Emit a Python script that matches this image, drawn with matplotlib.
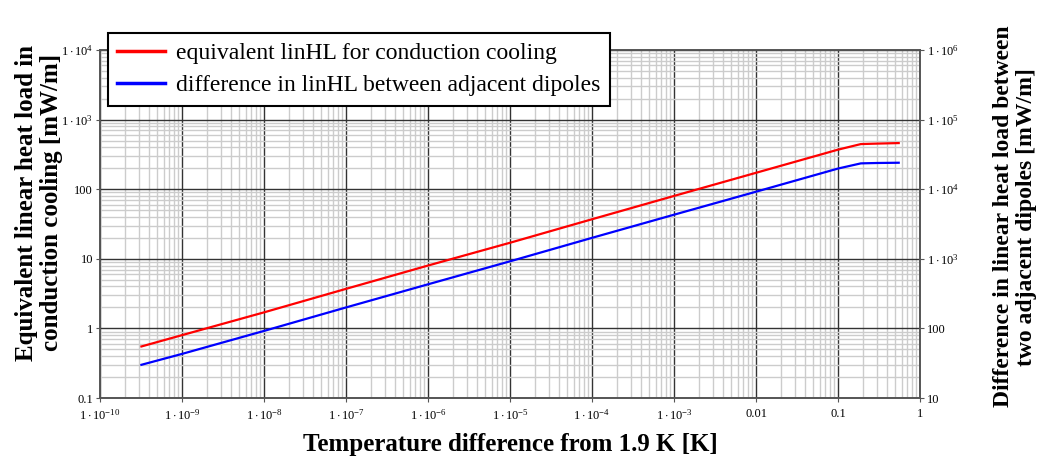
import math
import matplotlib
matplotlib.use("Agg")
import matplotlib.pyplot as plt
from matplotlib.ticker import LogLocator, FuncFormatter, NullFormatter

plt.rcParams['font.family'] = ['Liberation Serif', 'DejaVu Serif']
plt.rcParams['mathtext.fontset'] = 'custom'
plt.rcParams['mathtext.rm'] = 'Liberation Serif'
plt.rcParams['mathtext.it'] = 'Liberation Serif:italic'
plt.rcParams['mathtext.bf'] = 'Liberation Serif:bold'

# data
dT = [3.2e-10, 1e-9, 1e-8, 1e-7, 1e-6, 1e-5, 1e-4, 1e-3, 0.01, 0.1, 0.19, 0.3, 0.55]
lin_hl_equiv = [0.55, 0.80, 1.7, 3.7, 8.0, 17, 37, 80, 172, 370, 445, 452, 460]
lin_hl_diff = [30, 43, 92, 200, 430, 920, 2000, 4300, 9200, 19800, 23500, 23800, 24000]

label_equiv = "equivalent linHL for conduction cooling"
label_diff = "difference in linHL between adjacent dipoles"


def fmt(v, pos=None):
    if 0.01 <= v < 1000:
        return "%g" % v
    e = int(round(math.log10(v)))
    return r"$1\cdot10^{%d}$" % e


fig = plt.figure(figsize=(10.44, 4.61), dpi=100)
ax = fig.add_axes([100 / 1044, 1 - 398 / 461, 820 / 1044, 348 / 461])
ax2 = ax.twinx()

l1, = ax.plot(dT, lin_hl_equiv, color="#ff0000", lw=1.6)
l2, = ax2.plot(dT, lin_hl_diff, color="#0000ff", lw=1.6)

for a in (ax, ax2):
    a.set_xscale("log")
    a.set_yscale("log")
    a.xaxis.set_major_locator(LogLocator(base=10, numticks=20))
    a.xaxis.set_minor_locator(LogLocator(base=10, subs=range(2, 10), numticks=20))
    a.yaxis.set_major_locator(LogLocator(base=10, numticks=20))
    a.yaxis.set_minor_locator(LogLocator(base=10, subs=range(2, 10), numticks=20))
    a.yaxis.set_major_formatter(FuncFormatter(fmt))
    a.yaxis.set_minor_formatter(NullFormatter())
    a.tick_params(which="both", labelsize=9, length=3, color="#555555", pad=2)
    a.tick_params(which="minor", length=0)
    a.yaxis.label.set_visible(False)
    a.yaxis.get_offset_text().set_visible(False)
    a.xaxis.get_offset_text().set_visible(False)
    for s in a.spines.values():
        s.set_color("#555555")
        s.set_linewidth(1.2)
ax2.xaxis.label.set_visible(False)

ax.set_xlim(1e-10, 1)
ax.set_ylim(0.1, 1e4)
ax2.set_ylim(10, 1e6)
ax.xaxis.set_major_formatter(FuncFormatter(fmt))
ax.xaxis.set_minor_formatter(NullFormatter())
ax.tick_params(axis="x", pad=4)

ax.grid(True, which="minor", color="#cccccc", lw=1.0)
ax.grid(True, which="major", color="#333333", lw=1.0)
ax.set_axisbelow(True)

ax.set_xlabel("Temperature difference from 1.9 K [K]", fontsize=18,
              fontweight="bold", labelpad=8)
fig.text(0.037, 0.56, "Equivalent linear heat load in\nconduction cooling [mW/m]",
         rotation=90, ha="center", va="center", fontsize=18, fontweight="bold",
         linespacing=1.1)
fig.text(0.972, 0.53, "Difference in linear heat load between\ntwo adjacent dipoles [mW/m]",
         rotation=90, ha="center", va="center", fontsize=17, fontweight="bold",
         linespacing=1.15)

leg = fig.legend([l1, l2], [label_equiv, label_diff],
                 loc="upper left", bbox_to_anchor=(108 / 1044, 1 - 33 / 461),
                 fontsize=17, frameon=True, fancybox=False, framealpha=1,
                 edgecolor="black", handlelength=2.0, borderpad=0.4,
                 labelspacing=0.45, handletextpad=0.5, borderaxespad=0)
leg.get_frame().set_linewidth(1.5)
for h in leg.get_lines():
    h.set_linewidth(2.5)

fig.savefig("out.png", dpi=100)
